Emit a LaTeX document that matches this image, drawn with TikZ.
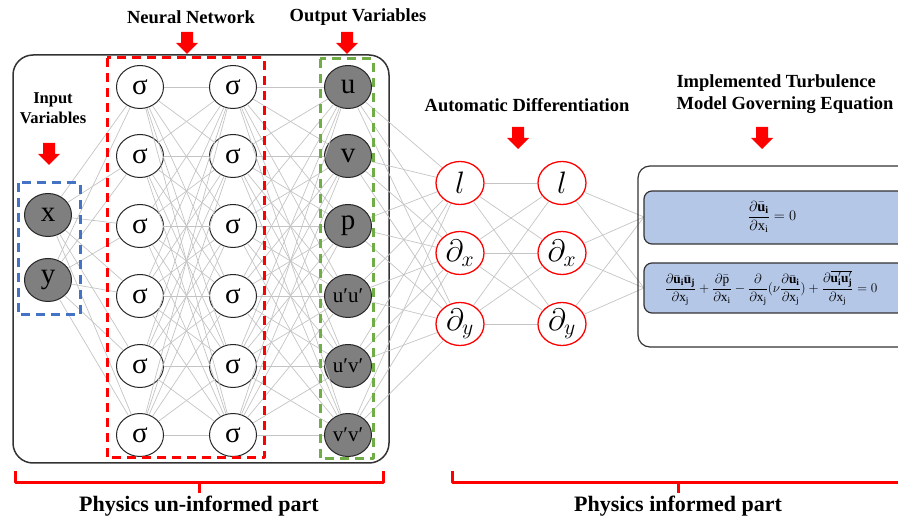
\RequirePackage{fix-cm}
\documentclass[tikz,border=0pt]{standalone}
\usepackage{fontspec}
\setmainfont{Liberation Serif}
\usepackage{xcolor}
\definecolor{nodegray}{HTML}{7F7F7F}
\definecolor{linkgray}{HTML}{C4C4C4}
\definecolor{inblue}{HTML}{4472C4}
\definecolor{outgreen}{HTML}{70AD47}
\definecolor{eqblue}{HTML}{B4C7E7}
\usepackage{tikz}
\usetikzlibrary{shapes.geometric}

\begin{document}
\begin{tikzpicture}[
  x=1pt, y=-1pt,
  line join=round,
  neuron/.style={ellipse, draw=black!85, line width=1pt, inner sep=0pt, minimum width=47pt, minimum height=43pt, fill=white, font=\fontsize{29}{29}\selectfont},
  given/.style={neuron, fill=nodegray},
  small/.style={font=\fontsize{21}{21}\selectfont},
  derive/.style={neuron, draw=red, line width=1.3pt, minimum width=48pt, font=\fontsize{31}{31}\selectfont},
  link/.style={draw=linkgray, line width=0.7pt},
  title/.style={font=\fontsize{18.5}{22}\selectfont\bfseries, align=center},
  frame/.style={draw=black!80, line width=1.5pt, rounded corners=20pt},
  group/.style={line width=3pt, dash pattern=on 9pt off 6pt},
  eqbox/.style={draw=black!80, line width=1.2pt, fill=eqblue, rounded corners=8pt},
  brace/.style={red, line width=3pt},
  redarrow/.pic={\fill[red] (-6,0) -- (6,0) -- (6,11) -- (11,11) -- (0,22) -- (-11,11) -- (-6,11) -- cycle;},
]
  \useasboundingbox (0,0) rectangle (898,521);

  \draw[frame] (13,55) rectangle (389,463);

  % inputs, hidden layers, outputs
  \node[given] (x) at (48,215) {x};
  \node[given] (y) at (48,280) {y};

  \foreach \i/\h in {1/87,2/156,3/226,4/296,5/366,6/435} {
    \node[neuron] (a\i) at (140,\h) {σ};
    \node[neuron] (b\i) at (233,\h) {σ};
  }

  \node[given] (o1) at (348,87) {u};
  \node[given] (o2) at (348,156) {v};
  \node[given] (o3) at (348,226) {p};
  \node[given, small] (o4) at (348,296) {u′u′};
  \node[given, small] (o5) at (348,366) {u′v′};
  \node[given, small] (o6) at (348,435) {v′v′};

  % automatic differentiation
  \node[derive] (d1) at (460,183) {$l$};
  \node[derive] (d2) at (460,253) {$\partial_x$};
  \node[derive] (d3) at (460,324) {$\partial_y$};
  \node[derive] (e1) at (562,183) {$l$};
  \node[derive] (e2) at (562,253) {$\partial_x$};
  \node[derive] (e3) at (562,324) {$\partial_y$};

  \coordinate (q1) at (644,217);
  \coordinate (q2) at (644,288);

  \foreach \i in {1,...,6} {
    \draw[link] (x) -- (a\i);
    \draw[link] (y) -- (a\i);
    \foreach \j in {1,...,6} {
      \draw[link] (a\i) -- (b\j);
      \draw[link] (b\i) -- (o\j);
    }
    \foreach \j in {1,2,3}
      \draw[link] (o\i) -- (d\j);
  }
  \foreach \i in {1,2,3} {
    \foreach \j in {1,2,3}
      \draw[link] (d\i) -- (e\j);
    \draw[link] (e\i) -- (q1);
    \draw[link] (e\i) -- (q2);
  }

  \draw[group, inblue] (18,183) rectangle (80,315);
  \draw[group, red] (107,58) rectangle (264,458);
  \draw[group, outgreen] (320,59) rectangle (373,459);

  % governing equations
  \draw[draw=black!80, line width=1.2pt, rounded corners=12pt] (898,166) -- (638,166) -- (638,347) -- (898,347);
  \draw[eqbox] (898,191) -- (644,191) -- (644,244) -- (898,244);
  \draw[eqbox] (898,263) -- (644,263) -- (644,313) -- (898,313);
  \node[font=\fontsize{14.5}{16}\selectfont] (eq1) at (772,217)
    {$\displaystyle\frac{\partial\bar{\mathbf{u}}_{\mathbf{i}}}{\partial\mathrm{x}_{\mathrm{i}}}=0$};
  \node[font=\fontsize{13.3}{15}\selectfont] (eq2) at (771,288)
    {$\displaystyle\frac{\partial\bar{\mathbf{u}}_{\mathbf{i}}\bar{\mathbf{u}}_{\mathbf{j}}}{\partial\mathrm{x}_{\mathrm{j}}}
      +\frac{\partial\bar{\mathrm{p}}}{\partial\mathrm{x}_{\mathrm{i}}}
      -\frac{\partial}{\partial\mathrm{x}_{\mathrm{j}}}(\nu\frac{\partial\bar{\mathbf{u}}_{\mathbf{i}}}{\partial\mathrm{x}_{\mathrm{j}}})
      +\frac{\partial\overline{\mathbf{u}'_{\mathbf{i}}\mathbf{u}'_{\mathbf{j}}}}{\partial\mathrm{x}_{\mathrm{j}}}=0$};

  % titles and arrows
  \node[title] (nntitle) at (191,17) {Neural Network};
  \node[title] (outtitle) at (358,17) {Output Variables};
  \node[title, font=\fontsize{16.5}{20}\selectfont\bfseries] (intitle) at (53,108) {Input\\Variables};
  \node[title] (adtitle) at (527,105) {Automatic Differentiation};
  \node[title, align=left, anchor=west] (eqtitle) at (673,94) {Implemented Turbulence\\Model Governing Equation};

  \pic at (187,32) {redarrow};
  \pic at (347,32) {redarrow};
  \pic at (49,143) {redarrow};
  \pic at (518,127) {redarrow};
  \pic at (762,127) {redarrow};

  % parts
  \draw[brace] (15,471) -- (15,483) -- (383,483) -- (383,471);
  \draw[brace] (199,483) -- (199,493);
  \draw[brace] (452,471) -- (452,483) -- (898,483);
  \draw[brace] (678,483) -- (678,493);
  \node[font=\fontsize{22}{24}\selectfont\bfseries] (uninf) at (199,506) {Physics un-informed part};
  \node[font=\fontsize{22}{24}\selectfont\bfseries] (inf) at (678,506) {Physics informed part};
\end{tikzpicture}
\end{document}
